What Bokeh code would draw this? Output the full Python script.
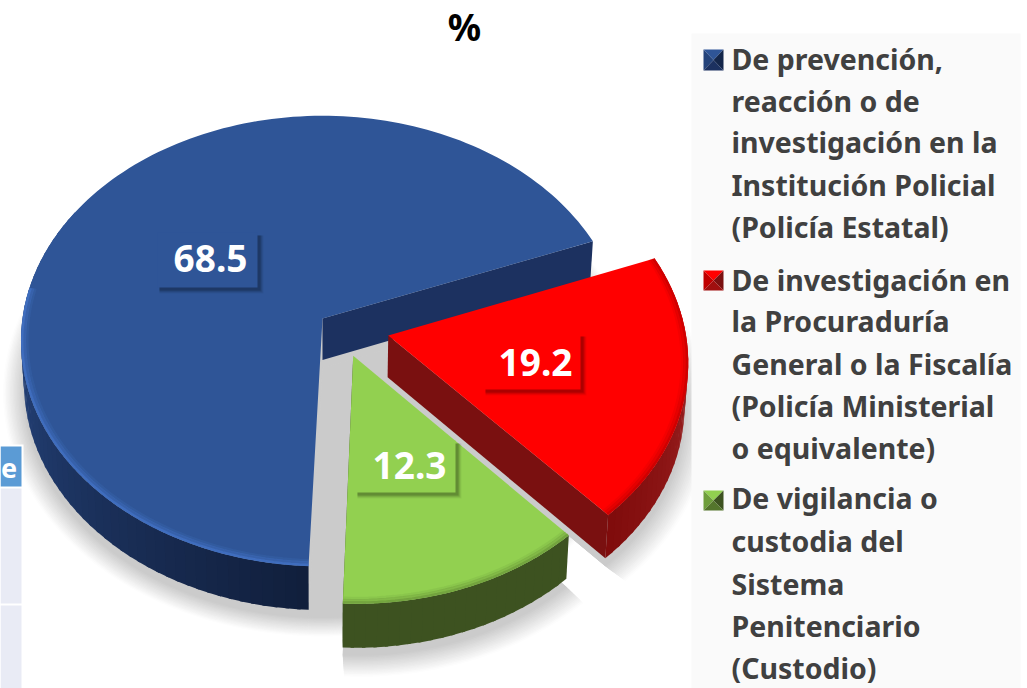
import math
from bokeh.plotting import figure
from bokeh.models import Range1d
from bokeh.core.properties import value
from bokeh.embed import file_html
from bokeh.resources import INLINE

# ---- data ----
names = ["De prevención, reacción o de investigación en la Institución Policial (Policía Estatal)",
         "De investigación en la Procuraduría General o la Fiscalía (Policía Ministerial o equivalente)",
         "De vigilancia o custodia del Sistema Penitenciario (Custodio)"]
values = [68.5, 19.2, 12.3]
value_labels = ["68.5", "19.2", "12.3"]
legend_lines = [["De prevención,", "reacción o de", "investigación en la", "Institución Policial", "(Policía Estatal)"],
                ["De investigación en", "la Procuraduría", "General o la Fiscalía", "(Policía Ministerial", "o equivalente)"],
                ["De vigilancia o", "custodia del", "Sistema", "Penitenciario", "(Custodio)"]]
title = "%"
table_header = "e"

# ---- style and layout ----
top_col = ["#2f5597", "#ff0000", "#92d050"]
cut_col = ["#1c3160", "#7a1010", "#3d5220"]
rim_from = [(44, 80, 146), (170, 45, 45), (61, 82, 32)]
rim_to = [(17, 31, 60), (128, 12, 12), (61, 82, 32)]
bevel_col = ["#4272c4", "#c80000", "#6f9e3c"]
explode = [(0.0, 0.0), (0.2175, 0.0762), (0.1007, 0.164)]
radius = [1.0, 0.985, 0.97]
first_angle = -92.4
CX, CY, R, RK, PERSP, DEPTH, Q = 322, 318, 300, 223, 0.1, 42, 0.01
box = [(157, 232, 257, 287), (483, 333, 580, 389), (355, 440, 455, 492)]
label_pos = [(210, 258), (535, 362), (409, 465)]
legend_y = [[58, 100, 141, 184, 226], [279, 320, 363, 405, 447], [497, 540, 583, 625, 667]]
marker_box = [(703, 49, 723, 70), (703, 270, 723, 290), (703, 490, 723, 510)]
marker_cols = [("#2f5597", "#24437a", "#14264a", "#1c3160"),
               ("#ff0000", "#c00000", "#7a1010", "#a00f0f"),
               ("#92d050", "#6f9e3c", "#3d5220", "#54752c")]


def proj(X, Y, z=0.0, s=1.0, dy=0.0):
    scale = 1.0 / ((1 - PERSP * Y) * (1 + Q * z))
    return CX + R * X * scale * s, CY + (RK * Y + DEPTH * z) * scale * s + dy


def spans():
    out, a = [], first_angle
    for v in values:
        b = a - v / sum(values) * 360
        out.append((a, b))
        a = b
    return out


def pt(i, deg, r=1.0, z=0.0, s=1.0, dy=0.0):
    t = math.radians(deg)
    ex, ey = explode[i]
    rr = radius[i] * r
    return proj(ex + rr * math.cos(t), ey - rr * math.sin(t), z, s, dy)


def arc(i, a, b, **kw):
    n = max(2, int(abs(a - b) / 1.5))
    return [pt(i, a + (b - a) * k / n, **kw) for k in range(n + 1)]


def apex(i, **kw):
    ex, ey = explode[i]
    return proj(ex, ey, kw.get("z", 0.0), kw.get("s", 1.0), kw.get("dy", 0.0))


p = figure(width=1027, height=688, x_range=Range1d(0, 1027), y_range=Range1d(688, 0),
           output_backend="svg", toolbar_location=None, min_border=0, outline_line_color=None,
           background_fill_color="white", border_fill_color="white")
p.xaxis.visible = False
p.yaxis.visible = False
p.grid.visible = False

S = spans()


def mix(c0, c1, t):
    return "#%02x%02x%02x" % tuple(int(round(c0[j] + (c1[j] - c0[j]) * t)) for j in range(3))


# floor shadow: opaque layers from the lightest and widest to the darkest.
# The last span is the place the two pulled-out slices came from, so the gaps are grey too.
layers = 16
for k in range(layers):
    t = k / (layers - 1)
    s = 1.07 - 0.07 * t
    d = 6 + 2 * t
    col = mix((253, 253, 253), (203, 203, 203), t)
    for i, (a, b) in enumerate(S):
        poly = [apex(i, z=1, s=s, dy=d)] + arc(i, a, b, z=1, s=s, dy=d)
        p.patch([c[0] for c in poly], [c[1] for c in poly], fill_color=col, line_color=None)
    poly = [apex(0, z=1, s=s, dy=d)] + arc(0, S[0][1] + 360, S[0][0], z=1, s=s, dy=d)
    p.patch([c[0] for c in poly], [c[1] for c in poly], fill_color=col, line_color=None)

# table fragment on the left and legend panel
p.quad(left=[0], right=[23], top=[444], bottom=[688], fill_color="white", line_color=None)
p.quad(left=[0], right=[21], top=[446], bottom=[486], fill_color="#5b9bd5", line_color=None)
p.quad(left=[0, 0], right=[21, 21], top=[488, 605], bottom=[603, 688], fill_color="#e9ebf5", line_color=None)
p.text([8.5], [468], text=[table_header], text_font=value("Noto Sans"), text_font_style="bold",
       text_font_size="27px", text_color="white", text_align="center", text_baseline="middle")
p.quad(left=[691], right=[1020], top=[33], bottom=[688], fill_color="#fafafa", line_color=None)


def draw_slice(i, rim_a, rim_b, cut_end):
    a, b = S[i]
    n = max(2, int(abs(rim_a - rim_b) / 2))
    sx, sy, sc = [], [], []
    for k in range(n):
        d0 = rim_a + (rim_b - rim_a) * k / n
        d1 = rim_a + (rim_b - rim_a) * (k + 1.3) / n
        d1 = max(min(d1, max(rim_a, rim_b)), min(rim_a, rim_b))
        q = [pt(i, d0), pt(i, d1), pt(i, d1, z=1), pt(i, d0, z=1)]
        sx.append([c[0] for c in q])
        sy.append([c[1] for c in q])
        sc.append(mix(rim_from[i], rim_to[i], k / max(1, n - 1)))
    p.patches(sx, sy, fill_color=sc, line_color=None)
    q = [apex(i), pt(i, cut_end), pt(i, cut_end, z=1), apex(i, z=1)]
    p.patch([c[0] for c in q], [c[1] for c in q], fill_color=cut_col[i], line_color=None)
    poly = [apex(i)] + arc(i, a, b)
    p.patch([c[0] for c in poly], [c[1] for c in poly], fill_color=top_col[i], line_color=None)


def bevel(i, u, w):
    for r, wd, al in [(0.996, 2.5, 0.85), (0.988, 3, 0.45), (0.98, 3, 0.2)]:
        c = arc(i, u, w, r=r)
        p.line([q[0] for q in c], [q[1] for q in c], line_color=bevel_col[i], line_width=wd, line_alpha=al)


draw_slice(0, 150, S[0][0] + 360, S[0][1] + 360)
bevel(0, 172, S[0][0] + 360)
draw_slice(2, S[2][0], S[2][1], S[2][1])
bevel(2, S[2][1], S[2][0])
draw_slice(1, S[1][0], S[1][1], S[1][1])
bevel(1, S[1][1], S[1][0])

# value labels, each on a box with a soft shadow
for i, (x0, y0, x1, y1) in enumerate(box):
    for off, al in [(6, 0.05), (5, 0.07), (4, 0.1), (3, 0.14)]:
        p.quad(left=[x0 + 2], right=[x1 + off], top=[y0 + 3], bottom=[y1 + off], fill_color="#000000",
               fill_alpha=al, line_color=None)
    p.quad(left=[x0], right=[x1], top=[y0], bottom=[y1], fill_color=top_col[i], line_color=None)
    p.text([label_pos[i][0]], [label_pos[i][1]], text=[value_labels[i]], text_font=value("Noto Sans"),
           text_font_style="bold", text_font_size="37px", text_color="white",
           text_align="center", text_baseline="middle")

# title
p.text([464], [26], text=[title], text_font=value("Noto Sans"), text_font_style="bold",
       text_font_size="37px", text_color="black", text_align="center", text_baseline="middle")

# legend
for i, lines in enumerate(legend_lines):
    x0, y0, x1, y1 = marker_box[i]
    xm, ym = (x0 + x1) / 2, (y0 + y1) / 2
    tri_x = [[x0, x1, xm], [x0, xm, x0], [x1, xm, x1], [x0, x1, xm]]
    tri_y = [[y0, y0, ym], [y0, ym, y1], [y0, ym, y1], [y1, y1, ym]]
    p.patches(tri_x, tri_y, fill_color=list(marker_cols[i]), line_color=None)
    p.text([731] * len(lines), legend_y[i], text=lines, text_font=value("Noto Sans"),
           text_font_style="bold", text_font_size="28.5px", text_color="#404040",
           text_align="left", text_baseline="middle")

open("out.html", "w").write(file_html(p, INLINE))
